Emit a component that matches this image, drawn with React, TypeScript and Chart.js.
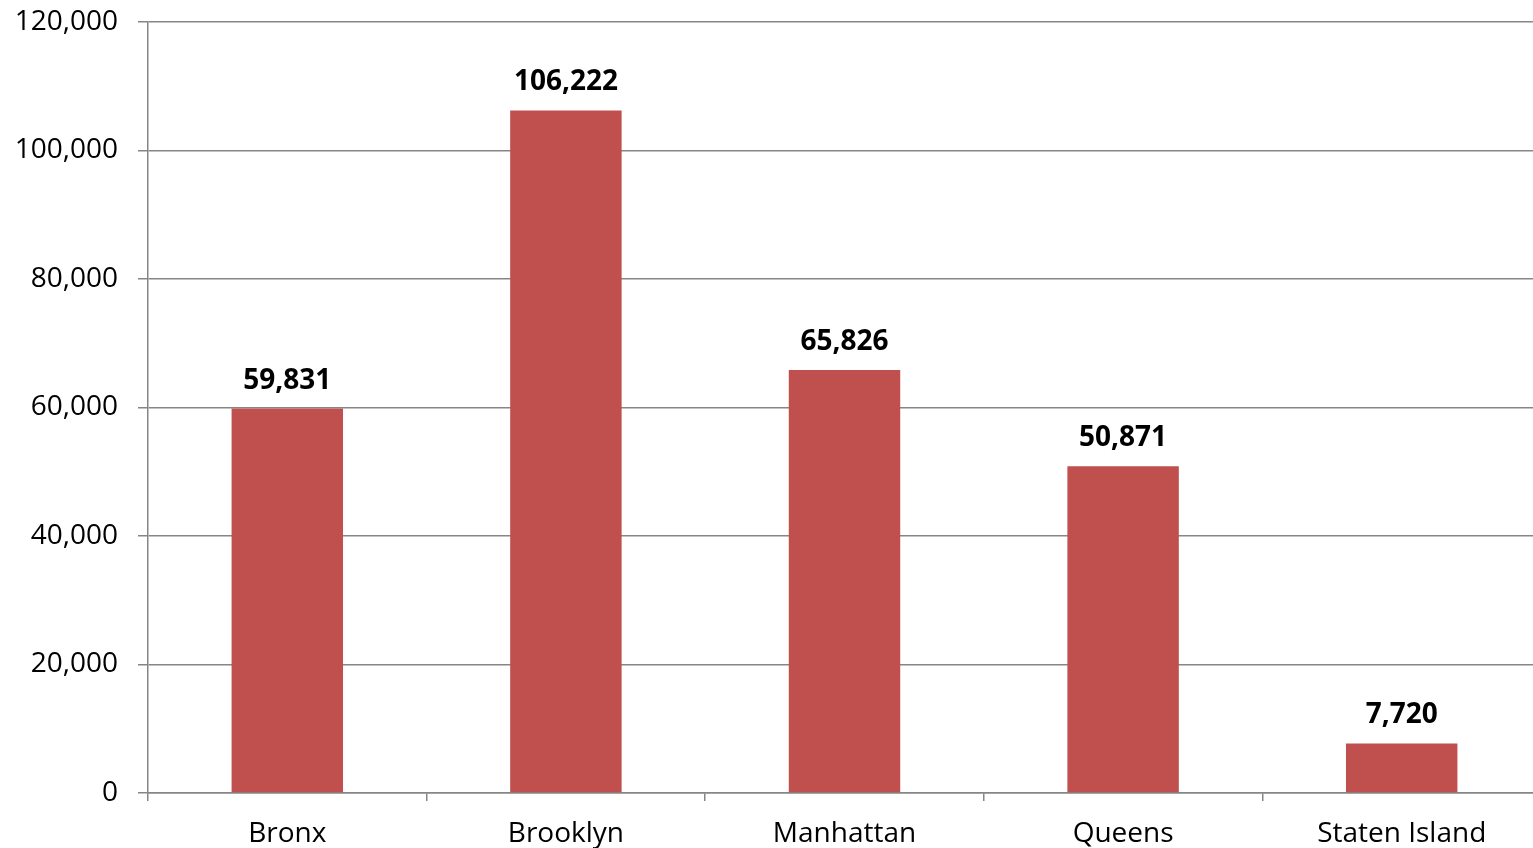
import React, { useEffect, useRef } from "react";
import { Chart, registerables } from "chart.js";

Chart.register(...registerables);

const categories = ["Bronx", "Brooklyn", "Manhattan", "Queens", "Staten Island"];
const values = [59831, 106222, 65826, 50871, 7720];
const yTicks = [0, 20000, 40000, 60000, 80000, 100000, 120000];

const FONT = "'Open Sans', 'Noto Sans', sans-serif";
const GRID = "#868686";
const BAR = "#C0504D";

const fmt = (v: number) => v.toLocaleString("en-US");

const labelPlugin = {
  id: "valueLabels",
  afterDatasetsDraw(chart: any) {
    const ctx = chart.ctx;
    const meta = chart.getDatasetMeta(0);
    ctx.save();
    ctx.font = `bold 28px ${FONT}`;
    ctx.fillStyle = "#000000";
    ctx.textAlign = "center";
    ctx.textBaseline = "middle";
    meta.data.forEach((bar: any, i: number) => {
      ctx.fillText(fmt(values[i]), bar.x, bar.y - 28);
    });
    ctx.restore();
  },
};

export default function App() {
  const ref = useRef<HTMLCanvasElement>(null);
  useEffect(() => {
    if (!ref.current) return;
    const chart = new Chart(ref.current, {
      type: "bar",
      data: {
        labels: categories,
        datasets: [
          {
            data: values,
            backgroundColor: BAR,
            borderWidth: 0,
            categoryPercentage: 1,
            barPercentage: 0.4,
          },
        ],
      },
      options: {
        responsive: false,
        animation: false,
        layout: { padding: { top: 22, right: 0, left: 0, bottom: 0 } },
        plugins: { legend: { display: false }, tooltip: { enabled: false } },
        scales: {
          x: {
            offset: true,
            grid: {
              offset: true,
              drawOnChartArea: false,
              drawTicks: true,
              tickLength: 8,
              color: GRID,
              lineWidth: 1.5,
            },
            border: { color: GRID, width: 1.5 },
            ticks: {
              font: { family: FONT, size: 28 },
              color: "#000000",
              padding: 16,
              maxRotation: 0,
              autoSkip: false,
            },
            afterFit: (s: any) => {
              s.height = 70;
              s.paddingLeft = 0;
              s.paddingRight = 0;
            },
          },
          y: {
            min: 0,
            max: 120000,
            afterBuildTicks: (s: any) => {
              s.ticks = yTicks.map((v) => ({ value: v }));
            },
            grid: { color: GRID, tickLength: 10, lineWidth: 1.5 },
            border: { color: GRID, width: 1.5 },
            ticks: {
              font: { family: FONT, size: 28 },
              color: "#000000",
              padding: 20,
              callback: (v: any) => fmt(Number(v)),
            },
            afterFit: (s: any) => {
              s.width = 148;
              s.paddingTop = 0;
              s.paddingBottom = 0;
            },
          },
        },
      },
      plugins: [labelPlugin],
    });
    return () => chart.destroy();
  }, []);
  return (
    <div
      style={{
        position: "fixed",
        left: 0,
        top: 0,
        width: 1533,
        height: 848,
        overflow: "hidden",
        background: "#ffffff",
      }}
    >
      <canvas ref={ref} width={1541} height={863} style={{ width: 1541, height: 863 }} />
    </div>
  );
}
